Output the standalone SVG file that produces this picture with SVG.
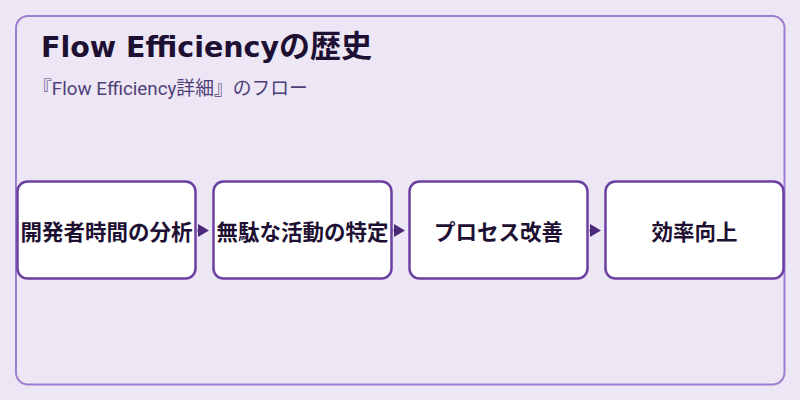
<svg xmlns="http://www.w3.org/2000/svg" width="800" height="400" viewBox="0 0 800 400">
<defs>
<style>
.node rect{fill:#ffffff;stroke:#6b40a0;stroke-width:2.5}
.node text{font-family:"Noto Sans CJK JP","Noto Sans",sans-serif;font-size:21.5px;font-weight:bold;fill:#1e1033;text-anchor:middle;dominant-baseline:central}
.conn path{stroke:#4a2878;stroke-width:2;fill:none}
</style>
<marker id="arr" viewBox="0 0 11 13" refX="0" refY="6.5" markerWidth="11" markerHeight="13" orient="auto" markerUnits="userSpaceOnUse">
<path d="M0,0 L11,6.5 L0,13 Z" fill="#4a2878"/>
</marker>
</defs>
<rect width="800" height="400" fill="#ede6f5"/>
<rect x="16" y="16" width="768.5" height="368.5" rx="12" fill="#ede6f5" stroke="#9d7fd0" stroke-width="2"/>
<text x="41" y="57" font-family="'DejaVu Sans','Noto Sans CJK JP',sans-serif" font-size="28.5" font-weight="bold" fill="#1e1033">Flow Efficiency<tspan font-family="'Noto Sans CJK JP',sans-serif" font-size="31">の歴史</tspan></text>
<text x="33" y="95" font-family="Roboto,'Noto Sans CJK JP',sans-serif" font-size="18.8" fill="#4f3f78">『Flow Efficiency詳細』のフロー</text>
<g class="conn">
<path d="M197.5,230.5 L198,230.5" marker-end="url(#arr)"/>
<path d="M393.5,230.5 L394,230.5" marker-end="url(#arr)"/>
<path d="M589.5,230.5 L590,230.5" marker-end="url(#arr)"/>
</g>
<g id="n1" class="node"><rect x="17.5" y="181.5" width="178" height="97" rx="10"/><text x="106.5" y="230">開発者時間の分析</text></g>
<g id="n2" class="node"><rect x="213.5" y="181.5" width="178" height="97" rx="10"/><text x="302.5" y="230">無駄な活動の特定</text></g>
<g id="n3" class="node"><rect x="409.5" y="181.5" width="178" height="97" rx="10"/><text x="498.5" y="230">プロセス改善</text></g>
<g id="n4" class="node"><rect x="605.5" y="181.5" width="178" height="97" rx="10"/><text x="694.5" y="230">効率向上</text></g>
</svg>
